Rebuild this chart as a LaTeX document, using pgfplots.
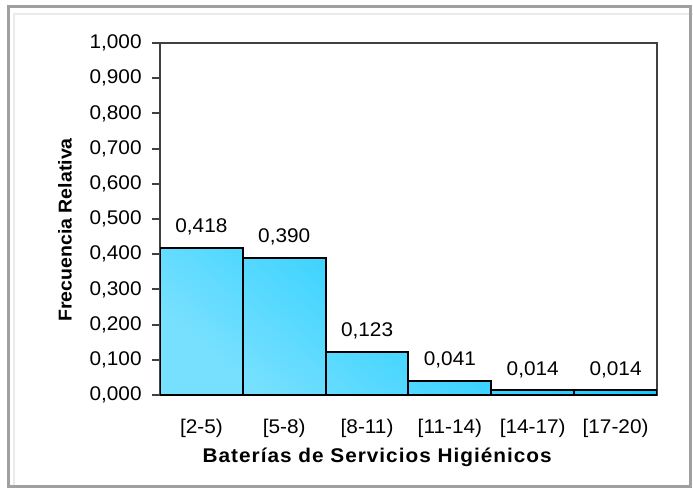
\documentclass[border=0pt]{standalone}
\usepackage{pgfplots}
\pgfplotsset{compat=1.18}
\usepackage{fontspec}
\setmainfont[FakeStretch=1.05]{Liberation Sans}
\definecolor{axisgray}{HTML}{404040}
\definecolor{framegray}{HTML}{A0A0A0}
\definecolor{framelight}{HTML}{EBEBEB}
\definecolor{bardark}{HTML}{00C6FF}
\definecolor{barlight}{HTML}{78E0FF}

\begin{document}
\begin{tikzpicture}
\useasboundingbox (0,0) rectangle (346.5pt,-244pt);
% frame of the chart area
\draw[framelight, line width=1pt] (7pt,-243pt) -- (7pt,-7pt) -- (346.5pt,-7pt);
\draw[framegray, line width=1.5pt] (4.25pt,-3pt) rectangle (345.25pt,-243pt);
\begin{axis}[
    at={(80pt,-197.5pt)}, anchor=south west,
    scale only axis,
    width=248.5pt, height=176pt,
    font=\fontsize{9.9}{11}\selectfont,
    xmin=-0.5, xmax=5.5,
    ymin=0, ymax=1,
    ytick={0,0.1,...,1.01},
    xtick=data,
    xticklabels={{[2-5)},{[5-8)},{[8-11)},{[11-14)},{[14-17)},{[17-20)}},
    axis line style={axisgray, line width=1pt},
    tick align=outside,
    tick pos=left,
    major tick length=4pt,
    y tick style={axisgray, line width=1pt},
    major x tick style={draw=none},
    x tick label style={anchor=base, yshift=-15pt},
    y tick label style={anchor=east, inner sep=0pt, xshift=-5pt},
    /pgf/number format/.cd, fixed, fixed zerofill, precision=3, use comma, assume math mode=true,
    /pgfplots/.cd,
    ylabel={\fontsize{9.3}{11}\selectfont\bfseries Frecuencia Relativa},
    xlabel={\addfontfeatures{LetterSpace=5}\bfseries Bater\'ias de Servicios Higi\'enicos},
    every axis y label/.style={at={(axis description cs:-0.191,0.469)}, anchor=center, rotate=90},
    every axis x label/.style={at={(axis description cs:0.437,0)}, anchor=center, yshift=-31pt},
    nodes near coords,
    every node near coord/.append style={anchor=base, yshift=7.5pt, font=\fontsize{9.9}{11}\selectfont},
]
\addplot[ybar, bar width=1, draw=black, line width=1pt,
    top color=bardark, bottom color=barlight, shading angle=-40]
    coordinates {(0,0.418) (1,0.390) (2,0.123) (3,0.041) (4,0.014) (5,0.014)};
\end{axis}
\end{tikzpicture}
\end{document}
